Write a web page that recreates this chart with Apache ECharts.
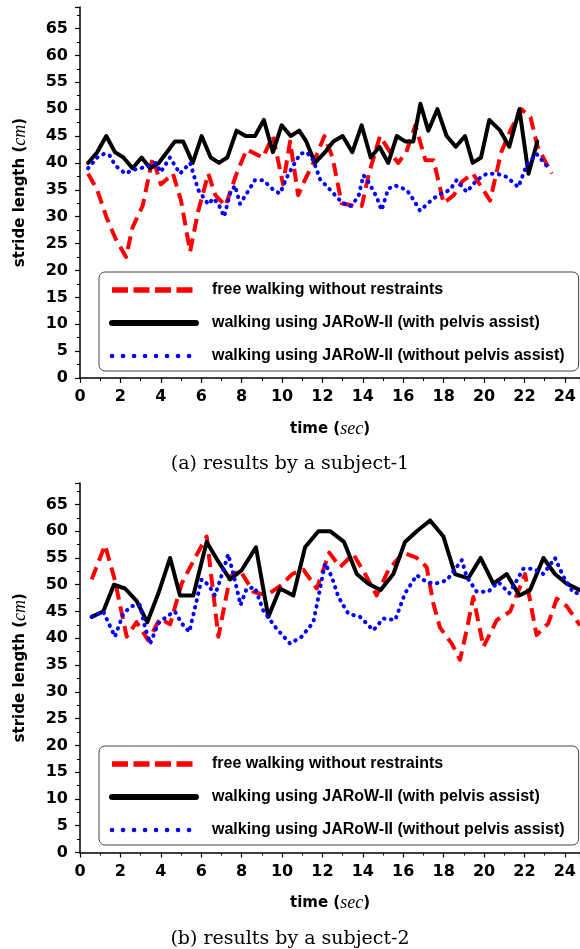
<html>
<head>
<meta charset='utf-8'>
<script src='https://cdn.jsdelivr.net/npm/echarts@6/dist/echarts.min.js'></script>
</head>
<body>
<style>
    html, body, #main {
        width: 100%;
        height: 100%;
        margin: 0;
        background: #fff;
    }
</style>
<div id='main'></div>
<script>

var seriesNames = [
    'free walking without restraints',
    'walking using JARoW-II (with pelvis assist)',
    'walking using JARoW-II (without pelvis assist)'
];
var captions = ['(a) results by a subject-1', '(b) results by a subject-2'];

// subject-1: [time (sec), stride length (cm)]
var free1 = [[0.4,38],[0.85,35],[1.3,30],[1.75,26],[2.28,22.5],[2.6,28],[3.1,32],[3.6,41],[4.0,36],[4.6,38],[5.0,33],[5.45,23.5],[5.85,31],[6.35,38],[6.7,34],[7.2,32],[7.75,38],[8.25,42.5],[9.05,41],[9.55,45],[10.05,36],[10.4,44],[10.8,34],[11.15,37],[11.55,40],[12.1,45],[12.5,41],[12.95,32.5],[13.6,32],[13.95,32],[14.3,38],[14.85,45],[15.35,42],[15.75,40],[16.15,42],[16.6,47],[17.1,40.5],[17.5,40.5],[18.0,32.5],[18.5,34],[18.9,36.5],[19.45,38],[20.3,33],[20.85,42],[21.3,46],[21.85,50],[22.3,48.5],[22.65,43],[23.35,38]];
var pelvis1 = [[0.4,40],[0.85,42],[1.3,45],[1.73,42],[2.15,41],[2.6,39],[3.05,41],[3.47,39],[3.9,40],[4.3,42],[4.7,44],[5.1,44],[5.58,40],[6.02,45],[6.47,41],[6.88,40],[7.29,41],[7.75,46],[8.2,45],[8.66,45],[9.1,48],[9.55,42],[9.98,47],[10.43,45],[10.85,46],[11.2,44],[11.63,40],[12.13,42],[12.54,44],[13,45],[13.48,42],[13.94,47],[14.39,41],[14.82,43],[15.26,40],[15.68,45],[16.09,44],[16.5,44],[16.85,51],[17.24,46],[17.69,50],[18.15,45],[18.6,43],[19.06,45],[19.44,40],[19.85,41],[20.26,48],[20.8,46],[21.25,43],[21.75,50],[22.2,38],[22.64,44]];
var noPelvis1 = [[0.4,39],[0.85,41],[1.2,41.7],[1.45,41.5],[1.75,39.5],[2.25,38],[2.6,38.7],[3.0,39],[3.4,39.5],[3.75,40],[4.0,38.3],[4.45,41],[4.95,38],[5.45,40],[5.85,35],[6.35,32.3],[6.6,33.4],[6.85,32.4],[7.13,30],[7.43,34.3],[7.67,35.8],[7.92,32.4],[8.25,34.3],[8.66,36.8],[9.07,36.8],[9.57,35],[9.9,34.3],[10.25,37.4],[10.6,39.8],[10.9,41.7],[11.22,42],[11.55,40.5],[11.88,37],[12.38,35],[12.95,32.7],[13.37,31.9],[13.78,33.7],[14.03,37.7],[14.27,36.5],[14.68,33.7],[14.93,31.2],[15.26,35.2],[15.6,35.8],[16.17,35],[16.5,33.2],[16.83,31.1],[17.49,33.4],[17.9,34.3],[18.32,35],[18.64,36.8],[19.14,34.6],[19.64,36.8],[20.13,38],[20.63,38],[21.12,37.4],[21.7,35.5],[22.11,39.6],[22.6,41.7],[23.27,38.7]];

// subject-2
var free2 = [[0.58,51],[1.24,57.4],[1.73,50.8],[2.31,40.3],[2.8,43],[3.38,39.6],[3.96,43.7],[4.46,42.6],[5.03,50.2],[5.69,55],[6.27,59],[6.85,40.3],[7.43,51.5],[7.92,52.7],[8.58,48.7],[9.24,48],[9.98,50],[10.5,52],[11.06,52.8],[11.72,49.3],[12.34,56],[12.87,53.3],[13.53,55.7],[14.11,52],[14.68,48],[15.26,52.7],[16.0,56],[16.67,55],[17.16,53.3],[17.49,46.5],[17.82,42],[18.4,39],[18.81,36],[19.14,41.5],[19.47,47.7],[19.97,38.4],[20.63,43.4],[21.29,45],[21.78,49.6],[22.03,52],[22.6,40.6],[23.18,42.8],[23.6,47.4],[24.09,46],[24.75,42.4]];
var pelvis2 = [[0.58,44],[1.15,45],[1.68,50],[2.23,49.3],[2.8,47],[3.33,43],[3.88,48.4],[4.46,55],[4.95,48],[5.61,48],[6.27,58],[6.85,54.3],[7.43,51],[8.0,52.7],[8.71,57],[9.32,44],[9.9,49.3],[10.56,48],[11.14,57],[11.8,60],[12.38,60],[13.07,58],[13.7,52],[14.27,50.2],[14.88,49],[15.51,52],[16.09,58],[16.67,60],[17.33,62],[17.99,59],[18.56,52],[19.22,51.2],[19.83,55],[20.46,50.2],[21.12,52],[21.75,48],[22.28,49],[22.94,55],[23.51,52],[24.09,50.2],[24.75,49]];
var noPelvis2 = [[0.58,44],[1.15,45],[1.73,40.3],[2.15,44.7],[2.56,46],[2.97,46.2],[3.22,42],[3.47,39],[3.88,42.8],[4.37,44.3],[4.7,45],[5.03,42.8],[5.41,41.2],[5.77,47],[6.02,51],[6.35,50],[6.68,48],[6.93,50.8],[7.34,55.7],[7.67,50.8],[7.95,46.2],[8.25,49.3],[8.66,49.5],[9.07,45.2],[9.73,41.8],[10.4,39],[10.97,40.3],[11.55,43],[11.8,47.7],[12.13,54],[12.46,51.5],[12.79,47.7],[13.28,44.6],[13.86,44],[14.52,41.5],[15.02,43.7],[15.6,43.4],[16.09,48.4],[16.67,51.8],[17.16,50.5],[17.57,50.2],[18.15,50.8],[18.9,54.6],[19.14,51.5],[19.64,48.7],[20.21,48.7],[20.71,50.5],[21.25,48.4],[21.95,53],[22.44,53],[22.94,52],[23.51,55],[23.93,51.5],[24.42,48.5],[24.75,48.4]];

var SANS = 'Liberation Sans';
var WIDE = 'DejaVu Sans';
var SERIF = 'DejaVu Serif';

var chart = echarts.init(document.getElementById('main'));

var nameRich = {
    b: { fontFamily: WIDE, fontWeight: 'bold', fontSize: 15, color: '#000' },
    i: { fontFamily: 'Liberation Serif', fontStyle: 'italic', fontSize: 18, color: '#000' }
};

function xAxisOf(gi) {
    return {
        type: 'value', gridIndex: gi, min: 0, max: 24.75, interval: 2,
        name: '{b|time (}{i|sec}{b|)}',
        nameLocation: 'middle', nameGap: 42,
        nameTextStyle: { rich: nameRich },
        axisLine: { onZero: false, lineStyle: { color: '#000', width: 1.5 } },
        axisTick: { length: 5, lineStyle: { color: '#000', width: 1.2 } },
        minorTick: { show: true, splitNumber: 2, length: 3, lineStyle: { color: '#000', width: 1 } },
        splitLine: { show: false },
        axisLabel: { color: '#000', fontFamily: WIDE, fontWeight: 'bold', fontSize: 16, margin: 11, showMaxLabel: false }
    };
}

function yAxisOf(gi) {
    return {
        type: 'value', gridIndex: gi, min: 0, max: 69, interval: 5,
        name: '{b|stride length (}{i|cm}{b|)}',
        nameLocation: 'middle', nameGap: 51, nameRotate: 90,
        nameTextStyle: { rich: nameRich },
        axisLine: { lineStyle: { color: '#000', width: 1.5 } },
        axisTick: { length: 5, lineStyle: { color: '#000', width: 1.2 } },
        minorTick: { show: true, splitNumber: 2, length: 3, lineStyle: { color: '#000', width: 1 } },
        splitLine: { show: false },
        axisLabel: { color: '#000', fontFamily: WIDE, fontWeight: 'bold', fontSize: 16, margin: 12, showMaxLabel: false }
    };
}

// legend samples are drawn a little bolder than the plotted lines
var legendLook = [
    { lineStyle: { width: 5.5, type: [16, 5.5], cap: 'butt' } },
    { lineStyle: { width: 6, type: 'solid', cap: 'round' } },
    { lineStyle: { width: 4.5, type: [0.1, 10.9], cap: 'round' } }
];

function legendOf(top) {
    return {
        data: seriesNames.map(function (n, i) {
            return { name: n, lineStyle: legendLook[i].lineStyle };
        }),
        left: 99, top: top, orient: 'vertical',
        itemWidth: 84, itemHeight: 14, itemGap: 17,
        padding: [10, 14, 7, 10],
        borderColor: '#444', borderWidth: 1, borderRadius: 6,
        selectedMode: false,
        itemStyle: { color: 'transparent', borderWidth: 0 },
        textStyle: { fontFamily: SANS, fontWeight: 'bold', fontSize: 16, lineHeight: 14, color: '#000', padding: [0, 0, 0, 11] }
    };
}

function lineOf(name, data, gi, color, width, type, cap) {
    return {
        type: 'line', name: name, data: data,
        xAxisIndex: gi, yAxisIndex: gi,
        symbol: 'none', animation: false,
        lineStyle: { color: color, width: width, type: type, cap: cap || 'butt', join: 'round' },
        itemStyle: { color: color }
    };
}

var captionStyle = { fontFamily: SERIF, fontWeight: 'normal', fontSize: 19, color: '#000' };

var option = {
    backgroundColor: '#fff',
    title: [
        { text: captions[0], left: 'center', top: 450, textStyle: captionStyle },
        { text: captions[1], left: 'center', top: 925, textStyle: captionStyle }
    ],
    grid: [
        { left: 80, right: 0, top: 7, height: 371 },
        { left: 80, right: 0, top: 483, height: 369.5 }
    ],
    xAxis: [xAxisOf(0), xAxisOf(1)],
    yAxis: [yAxisOf(0), yAxisOf(1)],
    legend: [legendOf(272), legendOf(746)],
    series: [
        lineOf(seriesNames[0], free1, 0, '#ff0000', 4, [13, 7]),
        lineOf(seriesNames[1], pelvis1, 0, '#000000', 4, 'solid', 'round'),
        lineOf(seriesNames[2], noPelvis1, 0, '#0000ff', 4, [0.5, 6.5], 'round'),
        lineOf(seriesNames[0], free2, 1, '#ff0000', 4, [13, 7]),
        lineOf(seriesNames[1], pelvis2, 1, '#000000', 4, 'solid', 'round'),
        lineOf(seriesNames[2], noPelvis2, 1, '#0000ff', 4, [0.5, 6.5], 'round')
    ]
};

chart.setOption(option);

</script>
</body>
</html>
